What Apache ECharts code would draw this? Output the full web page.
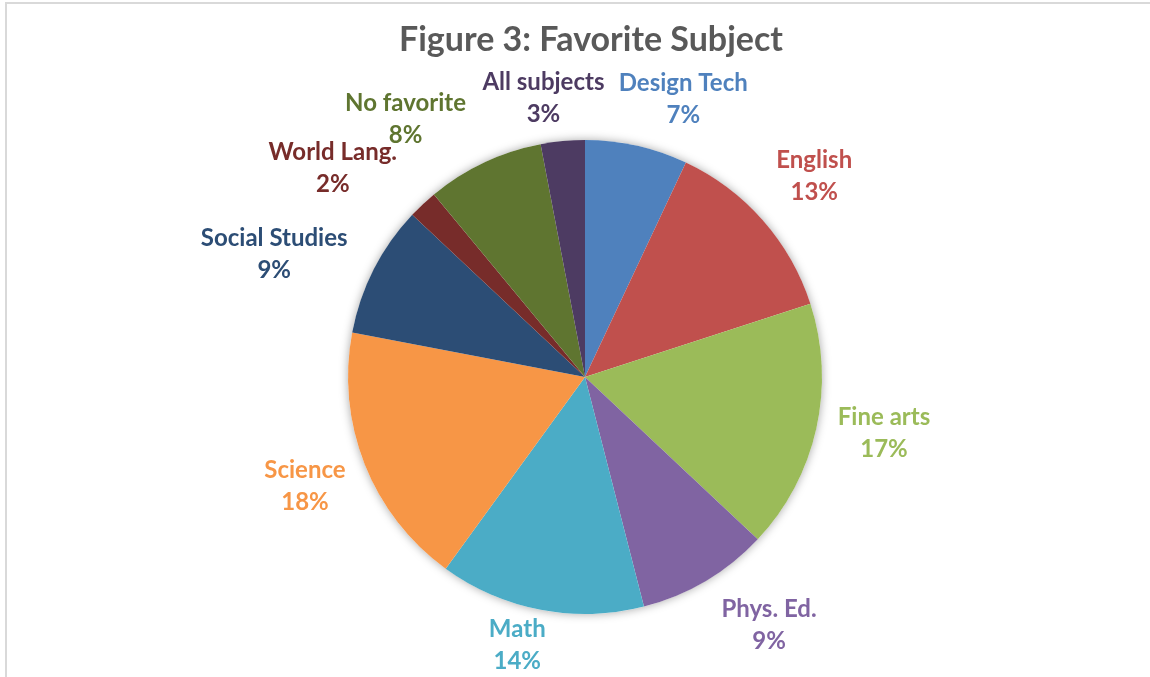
<!DOCTYPE html>
<html>
<head>
<meta charset="utf-8">
<script src="https://cdn.jsdelivr.net/npm/echarts@6/dist/echarts.min.js"></script>
<style>
  html, body { margin: 0; padding: 0; background: #fff; }
  #main { width: 1150px; height: 677px; }
</style>
</head>
<body>
<div id="main"></div>
<script>
// subjects, clockwise from 12 o'clock
const subjects = ['Design Tech', 'English', 'Fine arts', 'Phys. Ed.', 'Math', 'Science',
  'Social Studies', 'World Lang.', 'No favorite', 'All subjects']
const percents = [7, 13, 17, 9, 14, 18, 9, 2, 8, 3]
const colors = ['#4f81bd', '#c0504d', '#9bbb59', '#8064a2', '#4bacc6', '#f79646',
  '#2c4d75', '#772c2a', '#5f7530', '#4d3b62']
// small "best fit" nudges for the labels, like excel does it
const labelNudge = [[29, 0], [11, -12], [7, -6], [31, 3], [-15, -12], [-7, 4],
  [-20, 7], [-35, -1], [-46, 0], [-12, 5]]

const cx = 585, cy = 377, R = 237
const total = percents.reduce((a, b) => a + b, 0)

// mid angle of each slice (radians, from top, clockwise)
let acc = 0
const midAngles = percents.map(v => {
  const a = (acc + v / 2) / total * Math.PI * 2
  acc += v
  return a
})

const myChart = echarts.init(document.getElementById('main'))

const option = {
  backgroundColor: '#fff',
  title: {
    text: 'Figure 3: Favorite Subject',
    left: 586,
    top: 18,
    textAlign: 'center',
    textStyle: {
      fontFamily: 'Lato',
      fontWeight: 'bold',
      fontSize: 34,
      color: '#595959'
    }
  },
  graphic: [{
    type: 'rect',
    shape: { x: 6, y: 3, width: 1300, height: 900 },
    style: { fill: 'none', stroke: '#d9d9d9', lineWidth: 2 },
    silent: true
  }],
  series: [
    {
      // soft shadow under the whole pie
      type: 'pie',
      center: [cx, cy],
      radius: R,
      silent: true,
      z: 1,
      label: { show: false },
      labelLine: { show: false },
      itemStyle: {
        color: '#fff',
        shadowBlur: 10,
        shadowColor: 'rgba(0,0,0,0.35)'
      },
      data: [{ value: 1 }]
    },
    {
      type: 'pie',
      center: [cx, cy],
      radius: R,
      startAngle: 90,
      clockwise: true,
      z: 2,
      avoidLabelOverlap: false,
      itemStyle: { borderWidth: 0 },
      labelLine: { show: false },
      label: {
        show: true,
        position: 'outside',
        formatter: '{b}\n{c}%',
        fontFamily: 'Lato',
        fontWeight: 'bold',
        fontSize: 24,
        lineHeight: 32,
        align: 'center'
      },
      labelLayout: function (params) {
        const i = params.dataIndex
        const a = midAngles[i]
        const w = params.labelRect.width, h = params.labelRect.height
        const s = Math.sin(a), c = Math.cos(a)
        const d = R + 16
        return {
          x: cx + d * s + s * w / 2 + labelNudge[i][0],
          y: cy - d * c - c * h / 2 + labelNudge[i][1],
          align: 'center',
          verticalAlign: 'middle'
        }
      },
      data: subjects.map((name, i) => ({
        name: name,
        value: percents[i],
        itemStyle: { color: colors[i] },
        label: { color: colors[i] }
      }))
    }
  ]
}

myChart.setOption(option)
window.onresize = myChart.resize
</script>
</body>
</html>
